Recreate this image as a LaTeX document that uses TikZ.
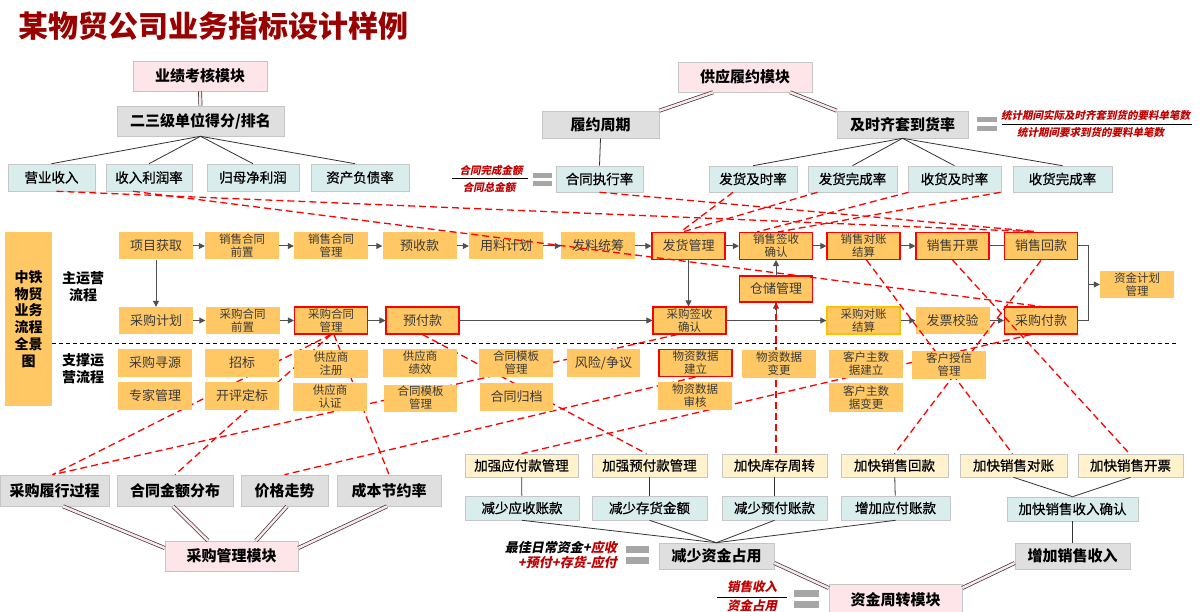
\documentclass[tikz,border=0pt]{standalone}
\usepackage{fontspec}
\setmainfont{Noto Sans CJK SC}
\newfontfamily\medcjk{Noto Sans CJK SC}[FakeBold=0.8]
\newfontfamily\itcjk{Noto Sans CJK SC}[FakeSlant=0.2,BoldFeatures={FakeSlant=0.2}]
\usetikzlibrary{arrows.meta,shadows}
\pgfdeclarelayer{front}
\pgfsetlayers{main,front}
\definecolor{pinkf}{HTML}{FDE5E9}
\definecolor{grayf}{HTML}{DFDFDF}
\definecolor{tealf}{HTML}{DAEDED}
\definecolor{yelf}{HTML}{FFF2CC}
\definecolor{orangef}{HTML}{FFC864}
\definecolor{titlered}{HTML}{990000}
\definecolor{fracred}{HTML}{C00000}
\definecolor{txtgray}{HTML}{3A3A3A}
\definecolor{arrgray}{HTML}{505050}
\definecolor{eqgray}{HTML}{A6A6A6}
\definecolor{ygold}{HTML}{FFC000}
\begin{document}
\begin{tikzpicture}[x=1pt,y=-1pt,
  bx/.style 2 args={minimum width=#1pt,minimum height=#2pt,inner sep=0pt,align=center},
  shad/.style={drop shadow={shadow xshift=1.2pt,shadow yshift=-1.2pt,opacity=0.35,fill=black!60}},
  modb/.style={fill=pinkf,draw=gray!45,line width=0.6pt,shad,font=\bfseries\fontsize{15}{18}\selectfont},
  grayb/.style={fill=grayf,draw=gray!45,line width=0.6pt,shad,font=\bfseries\fontsize{15}{18}\selectfont},
  tealb/.style={fill=tealf,draw=gray!45,line width=0.6pt,shad,font=\medcjk\fontsize{13.5}{16}\selectfont},
  yelb/.style={fill=yelf,draw=gray!45,line width=0.6pt,shad,font=\medcjk\fontsize{13.5}{16}\selectfont},
  proc/.style={fill=orangef,text=txtgray,font=\fontsize{13}{15}\selectfont},
  proctwo/.style={fill=orangef,text=txtgray,font=\fontsize{11.5}{13}\selectfont},
  redb/.style={draw=red,line width=1.1pt},
  arr/.style={draw=arrgray,line width=1pt,-{Triangle[length=6pt,width=6pt]}},
  ln/.style={draw=arrgray,line width=1pt},
  dsh/.style={draw=red,line width=1.3pt,dash pattern=on 7pt off 4pt},
  tree/.style={draw=black!80,line width=0.8pt},
  dbl/.style={draw=black!80,line width=0.7pt,double=pinkf,double distance=2.5pt},
  frac/.style={inner sep=0pt,text=fracred,font=\itcjk\bfseries\fontsize{10.5}{12}\selectfont},
  fractwo/.style={inner sep=0pt,text=fracred,font=\itcjk\bfseries\fontsize{13}{15}\selectfont},
  lab/.style={align=center,inner sep=0pt,font=\bfseries\fontsize{14}{17}\selectfont}
]
\useasboundingbox (0,0) rectangle (1202,612);
\fill[white] (0,0) rectangle (1202,612);

% title
\node[anchor=west,inner sep=0pt,text=titlered,font=\bfseries\fontsize{30}{32}\selectfont] (title) at (18,26) {某物贸公司业务指标设计样例};

% top-left group
\node[modb,bx={134}{30}] (mod1) at (200,76) {业绩考核模块};
\node[grayb,bx={167}{30}] (g1) at (200.5,121) {二三级单位得分/排名};
\node[tealb,bx={87}{27}] (t1) at (51.5,177.5) {营业收入};
\node[tealb,bx={86}{27}] (t2) at (149,177.5) {收入利润率};
\node[tealb,bx={92}{27}] (t3) at (253,177.5) {归母净利润};
\node[tealb,bx={98}{27}] (t4) at (360,177.5) {资产负债率};
\draw[dbl] (mod1.south) -- (g1.north);
\draw[tree] (g1.south) -- (t1.north);
\draw[tree] (g1.south) -- (t2.north);
\draw[tree] (g1.south) -- (t3.north);
\draw[tree] (g1.south) -- ([xshift=-5pt]t4.north);

% top-middle group
\node[modb,bx={134}{30}] (mod2) at (745,77) {供应履约模块};
\node[grayb,bx={117}{27}] (g2) at (600.5,124.5) {履约周期};
\node[tealb,bx={87}{26}] (t5) at (599.5,179) {合同执行率};
\node[grayb,bx={131}{27}] (g3) at (902.5,124.5) {及时齐套到货率};
\node[tealb,bx={88}{26}] (t6) at (753,179) {发货及时率};
\node[tealb,bx={89}{26}] (t7) at (852.5,179) {发货完成率};
\node[tealb,bx={93}{26}] (t8) at (954.5,179) {收货及时率};
\node[tealb,bx={99}{26}] (t9) at (1062.5,179) {收货完成率};
\draw[dbl] ([xshift=-32pt]mod2.south) -- (g2.north east);
\draw[dbl] ([xshift=45pt]mod2.south) -- (g3.north west);
\draw[tree] (g2.south) -- (t5.north);
\draw[tree] (g3.south) -- (t6.north);
\draw[tree] (g3.south) -- (t7.north);
\draw[tree] (g3.south) -- (t8.north);
\draw[tree] (g3.south) -- (t9.north);

% fractions
\node[frac] (fn1) at (491,171) {合同完成金额};
\node[frac] (fd1) at (489,187) {合同总金额};
\draw[black,line width=0.6pt] (452,178.5) -- (528,178.5);
\fill[eqgray] (533,173) rectangle (552,178);
\fill[eqgray] (533,181) rectangle (552,186);
\node[frac] (fn2) at (1095.5,115) {统计期间实际及时齐套到货的要料单笔数};
\node[frac] (fd2) at (1090.5,133) {统计期间要求到货的要料单笔数};
\draw[black,line width=0.6pt] (1002,124) -- (1192,124);
\fill[eqgray] (977,117) rectangle (997,122);
\fill[eqgray] (977,126) rectangle (997,131);

% process area
\node[fill=orangef,bx={47}{174},text=black,font=\bfseries\fontsize{14}{16.7}\selectfont] (side) at (28.5,319) {中铁\\物贸\\业务\\流程\\全景\\图};
\node[lab] (lab1) at (83,286.5) {主运营\\流程};
\node[lab] (lab2) at (83,368.5) {支撑运\\营流程};
\draw[black,line width=0.8pt,dash pattern=on 4pt off 3pt] (52,343) -- (1178,343);

% row 1
\node[proc,bx={74}{27}] (p11) at (156,246) {项目获取};
\node[proctwo,bx={74}{27}] (p12) at (242,246) {销售合同\\前置};
\node[proctwo,bx={74}{27}] (p13) at (331,246) {销售合同\\管理};
\node[proc,bx={74}{27}] (p14) at (419.5,246) {预收款};
\node[proc,bx={74}{27}] (p15) at (506,246) {用料计划};
\node[proc,bx={74}{27}] (p16) at (598,246) {发料统筹};
\node[proc,redb,bx={73}{27}] (p17) at (688.5,246) {发货管理};
\node[proctwo,redb,bx={73}{27}] (p18) at (776,246) {销售签收\\确认};
\node[proctwo,redb,bx={73}{27}] (p19) at (863.5,246) {销售对账\\结算};
\node[proc,redb,bx={73}{27}] (p1a) at (952.5,246) {销售开票};
\node[proc,draw=red,line width=1.8pt,bx={73}{27}] (p1b) at (1041,246) {销售回款};
% row 2
\node[proc,bx={74}{27}] (p21) at (156,320.5) {采购计划};
\node[proctwo,bx={74}{27}] (p22) at (242.5,320.5) {采购合同\\前置};
\node[proctwo,redb,bx={73}{27}] (p23) at (331,320.5) {采购合同\\管理};
\node[proc,redb,bx={73}{27}] (p24) at (422.5,320.5) {预付款};
\node[proctwo,redb,bx={73}{27}] (p25) at (689.5,320.5) {采购签收\\确认};
\node[proctwo,draw=ygold,line width=1.4pt,bx={73}{27}] (p26) at (863.5,320.5) {采购对账\\结算};
\node[proc,bx={74}{27}] (p27) at (952.5,320.5) {发票校验};
\node[proc,redb,bx={73}{27}] (p28) at (1041,320.5) {采购付款};
\node[proc,redb,bx={73}{26}] (wh) at (776,289) {仓储管理};
\node[proctwo,bx={74}{27}] (fp) at (1137,284.5) {资金计划\\管理};

\draw[arr] (p11) -- (p12);
\draw[arr] (p12) -- (p13);
\draw[arr] (p13) -- (p14);
\draw[arr] (p14) -- (p15);
\draw[arr] (p15) -- (p16);
\draw[arr] (p16) -- (p17);
\draw[arr] (p17) -- (p18);
\draw[arr] (p18) -- (p19);
\draw[arr] (p19) -- (p1a);
\draw[ln] (p1a) -- (p1b);
\draw[arr] (p21) -- (p22);
\draw[arr] (p22) -- (p23);
\draw[arr] (p23) -- (p24);
\draw[arr] (p24) -- (p25);
\draw[arr] (p25) -- (p26);
\draw[arr] (p26) -- (p27);
\draw[arr] (p27) -- (p28);
\draw[arr] (p11) -- (p21);
\draw[arr] (p17.south) -- (p17.south |- p25.north);
\draw[arr] (wh) -- (p18);
\coordinate (wb) at (776,320.5);
\draw[arr] (wb) -- (wh.south);
\coordinate (brk) at (1088,284.5);
\draw[ln] (p1b.east) -| (brk) |- (p28.east);
\draw[arr] (brk) -- (fp.west);

% support rows (in front of the dashed relations)
\begin{pgfonlayer}{front}
\node[proc,bx={74}{28}] (s1) at (155,363) {采购寻源};
\node[proc,bx={74}{28}] (s2) at (242,363) {招标};
\node[proctwo,bx={74}{28}] (s3) at (331,364) {供应商\\注册};
\node[proctwo,bx={74}{28}] (s4) at (420,363) {供应商\\绩效};
\node[proctwo,bx={74}{28}] (s5) at (516,363) {合同模板\\管理};
\node[proc,bx={73}{28}] (s6) at (603.5,363) {风险/争议};
\node[proctwo,redb,bx={73}{27}] (s7) at (695.5,363) {物资数据\\建立};
\node[proctwo,bx={74}{28}] (s8) at (779,363.5) {物资数据\\变更};
\node[proctwo,bx={74}{28}] (s9) at (866,363.5) {客户主数\\据建立};
\node[proctwo,bx={74}{28}] (sa) at (949,365) {客户授信\\管理};
\node[proc,bx={74}{28}] (s11) at (155,395.5) {专家管理};
\node[proc,bx={74}{28}] (s12) at (242,396) {开评定标};
\node[proctwo,bx={74}{28}] (s13) at (330,397) {供应商\\认证};
\node[proctwo,bx={73}{27}] (s14) at (420.5,398) {合同模板\\管理};
\node[proc,bx={73}{28}] (s15) at (516.5,397) {合同归档};
\node[proctwo,bx={74}{28}] (s16) at (695,396) {物资数据\\审核};
\node[proctwo,bx={74}{29}] (s17) at (866,397.5) {客户主数\\据变更};
\end{pgfonlayer}

% bottom-left group
\node[grayb,bx={109}{31}] (b1) at (54.5,490.5) {采购履行过程};
\node[grayb,bx={116}{31}] (b2) at (175,490.5) {合同金额分布};
\node[grayb,bx={87}{31}] (b3) at (284.5,490.5) {价格走势};
\node[grayb,bx={104}{31}] (b4) at (389,490.5) {成本节约率};
\node[modb,bx={133}{30}] (mod3) at (231.5,556) {采购管理模块};
\draw[dbl] ([xshift=8.5pt]b1.south) -- ([yshift=8pt]mod3.west);
\draw[dbl] ([xshift=-2pt]b2.south) -- ([xshift=-23.5pt]mod3.north);
\draw[dbl] ([xshift=2.5pt]b3.south) -- ([xshift=24.5pt]mod3.north);
\draw[dbl] ([xshift=-2pt]b4.south) -- ([yshift=8pt]mod3.east);

% bottom-middle group
\node[yelb,bx={113}{23}] (y1) at (521.5,465.5) {加强应付款管理};
\node[yelb,bx={115}{23}] (y2) at (649.5,465.5) {加强预付款管理};
\node[yelb,bx={105}{23}] (y3) at (774.5,465.5) {加快库存周转};
\node[yelb,bx={107}{23}] (y4) at (894.5,465.5) {加快销售回款};
\node[yelb,bx={107}{23}] (y5) at (1013.5,465.5) {加快销售对账};
\node[yelb,bx={105}{23}] (y6) at (1130.5,465.5) {加快销售开票};
\node[tealb,bx={114}{24}] (z1) at (522,508) {减少应收账款};
\node[tealb,bx={115}{24}] (z2) at (649.5,508) {减少存货金额};
\node[tealb,bx={105}{24}] (z3) at (774.5,508) {减少预付账款};
\node[tealb,bx={109}{24}] (z4) at (895.5,508) {增加应付账款};
\node[tealb,bx={131}{24}] (z5) at (1072.5,509) {加快销售收入确认};
\node[grayb,bx={115}{26}] (m1) at (716.5,556) {减少资金占用};
\node[grayb,bx={115}{26}] (g4) at (1072.5,556) {增加销售收入};
\node[modb,bx={133}{32}] (mod4) at (895.5,600) {资金周转模块};
\draw[tree] (y1) -- (z1);
\draw[tree] (y2) -- (z2);
\draw[tree] (y3) -- (z3);
\draw[tree] (y4) -- (z4);
\draw[tree] (y5.south) -- (z5.north);
\draw[tree] (y6.south) -- (z5.north);
\draw[tree] (z1.south) -- (m1.north);
\draw[tree] (z2.south) -- (m1.north);
\draw[tree] (z3.south) -- (m1.north);
\draw[tree] (z4.south) -- (m1.north);
\draw[tree] (z5) -- (g4);
\draw[dbl] ([yshift=-7pt]m1.east) -- ([yshift=12pt]mod4.west);
\draw[dbl] ([yshift=-7pt]g4.west) -- ([yshift=12pt]mod4.east);

% bottom formulas
\node[fractwo,anchor=east,text=black] (fm1) at (617,548) {最佳日常资金+\textcolor{fracred}{应收}};
\node[fractwo,anchor=east] (fm2) at (617,563) {+预付+存货-应付};
\fill[eqgray] (626,546) rectangle (649,553);
\fill[eqgray] (626,557) rectangle (649,564);
\node[fractwo,font=\itcjk\bfseries\fontsize{12.5}{14}\selectfont] (fm3) at (752,587) {销售收入};
\node[fractwo,font=\itcjk\bfseries\fontsize{12.5}{14}\selectfont] (fm4) at (752,606) {资金占用};
\draw[black,line width=0.6pt] (717,597) -- (787,597);
\fill[eqgray] (794,590) rectangle (819,597);
\fill[eqgray] (794,601) rectangle (819,608);

% red dashed relations
\draw[dsh] ([xshift=5pt]t1.south) -- ([xshift=-10pt]p1b.north);
\draw[dsh] ([xshift=-16pt]t2.south) -- (p28.north);
\draw[dsh] (t5.south) -- ([xshift=-5pt]p1b.north);
\draw[dsh] ([xshift=-20pt]t6.south) -- ([xshift=-8pt]p17.north);
\draw[dsh] ([xshift=-35pt]t7.south) -- ([xshift=-6pt]p17.north);
\draw[dsh] ([xshift=-46pt]t8.south) -- ([xshift=-19pt]p18.north);
\draw[dsh] ([xshift=-62pt]t9.south) -- ([xshift=2pt]p18.north);
\draw[dsh] (wh.south) -- ([xshift=1.5pt]y3.north);
\draw[dsh] ([xshift=3pt]p19.south) -- ([xshift=-1pt]y5.north);
\draw[dsh] (p1a.south) -- ([xshift=-1pt]y6.north);
\draw[dsh] (p1b.south) -- (y4.north);
\draw[dsh] ([xshift=-10pt]p28.south) -- (y1.north);
\draw[dsh] (p24.south) -- ([xshift=-3pt]y2.north);
\draw[dsh] (p23.south) -- ([xshift=-2pt]b1.north);
\draw[dsh] (p23.south) -- (b2.north);
\draw[dsh] ([xshift=3pt]p23.south) -- (b4.north);
\draw[dsh] ([xshift=-12pt]p25.south) -- ([xshift=-2pt]b1.north);
\draw[dsh] (s7.south) -- (b3.north);
\end{tikzpicture}
\end{document}
